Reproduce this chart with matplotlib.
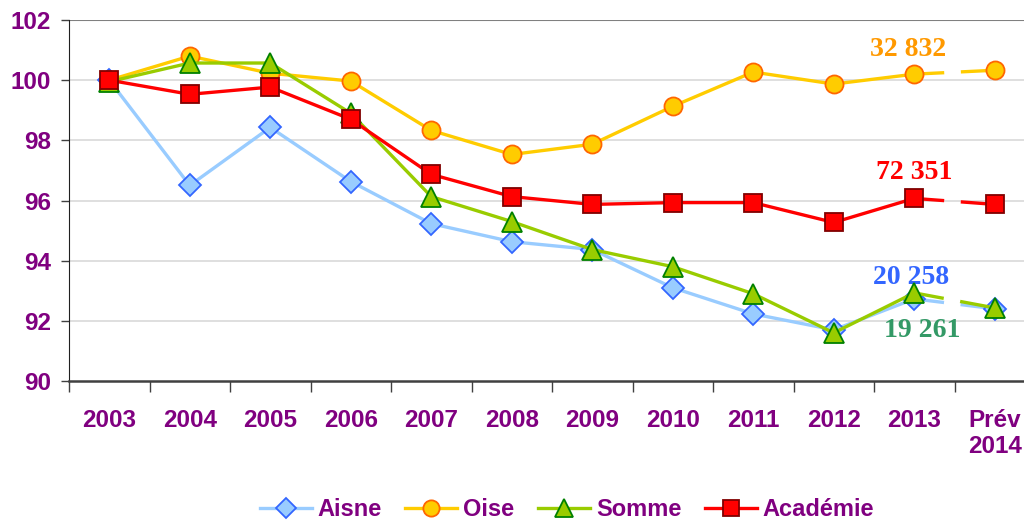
import numpy as np
import matplotlib.pyplot as plt
from matplotlib.ticker import FixedLocator

annees = ["2003", "2004", "2005", "2006", "2007", "2008", "2009", "2010",
          "2011", "2012", "2013", "Prév\n2014"]
aisne = [100, 96.5, 98.43, 96.63, 95.23, 94.63, 94.37, 93.1, 92.23, 91.7, 92.73, 92.4]
oise = [100, 100.8, 100.23, 99.97, 98.33, 97.53, 97.87, 99.13, 100.27, 99.87, 100.2, 100.33]
somme = [99.95, 100.57, 100.57, 98.9, 96.13, 95.3, 94.37, 93.8, 92.9, 91.6, 92.93, 92.43]
academie = [100, 99.53, 99.77, 98.7, 96.87, 96.13, 95.87, 95.93, 95.93, 95.27, 96.07, 95.87]

effectifs = ["20 258", "32 832", "19 261", "72 351"]

violet = "#800080"
plt.rcParams['font.family'] = ['Liberation Sans', 'DejaVu Sans']

fig = plt.figure(figsize=(10.24, 5.21), dpi=100)
ax = fig.add_axes([69/1024, 1 - 381/521, 1 - 69/1024, (381 - 20)/521])

x = np.arange(len(annees))
series = [
    ("Aisne", aisne, "#99CCFF", "D", "#99CCFF", "#3366FF", 11),
    ("Oise", oise, "#FFCC00", "o", "#FFCC00", "#FF6600", 13),
    ("Somme", somme, "#99CC00", "^", "#99CC00", "#008000", 14),
    ("Académie", academie, "#FF0000", "s", "#FF0000", "#800000", 13),
]

handles = []
for i, (nom, vals, lc, mk, fc, ec, ms) in enumerate(series):
    z = 3 + i
    ax.plot(x[:-1], vals[:-1], color=lc, lw=2.4, zorder=z, solid_capstyle='butt')
    ax.plot(x[-2:], vals[-2:], color=lc, lw=2.4, zorder=z,
            dashes=(9, 5), dash_capstyle='butt')
    ax.plot(x, vals, marker=mk, ms=ms, mfc=fc, mec=ec,
            mew=1.3, linestyle='none', zorder=z + 0.5)
    lh, = ax.plot([], [], color=lc, lw=2.4, marker=mk, ms=ms * 0.9, mfc=fc, mec=ec, mew=1.3)
    handles.append(lh)

# annotations des effectifs
font_ann = dict(family=['Liberation Serif', 'DejaVu Serif'], fontweight='bold', fontsize=20)
ax.text(x[-2] - 0.08, 101.02, effectifs[1], color="#FF9900", ha='center', va='center', **font_ann)
ax.text(x[-2], 96.93, effectifs[3], color="#FF0000", ha='center', va='center', **font_ann)
ax.text(x[-2] - 0.04, 93.43, effectifs[0], color="#3366FF", ha='center', va='center', **font_ann)
ax.text(x[-2] + 0.1, 91.67, effectifs[2], color="#339966", ha='center', va='center', **font_ann)

ax.set_xlim(-0.5, -0.5 + (1024 - 69) / 80.5)
ax.set_ylim(90, 102)
ax.set_yticks(np.arange(90, 103, 2))
ax.set_xticks(x)
ax.set_xticklabels(annees)
ax.xaxis.set_minor_locator(FixedLocator(np.arange(-0.5, 12, 1)))
ax.tick_params(axis='x', which='major', length=0, pad=20, labelsize=17.5, labelcolor=violet)
ax.tick_params(axis='x', which='minor', length=8, direction='out', color='#404040', width=1)
ax.tick_params(axis='y', length=6, direction='out', color='#404040', width=1,
               labelsize=17.5, labelcolor=violet, pad=7)
for lab in ax.get_xticklabels() + ax.get_yticklabels():
    lab.set_fontweight('bold')

for yv in np.arange(92, 101, 2):
    ax.axhline(yv, color='#D9D9D9', lw=1.2, zorder=1)
ax.axhline(102, color='#808080', lw=1.5, zorder=1)

ax.spines['top'].set_visible(False)
ax.spines['right'].set_visible(False)
ax.spines['left'].set_color('#202020')
ax.spines['bottom'].set_color('#404040')
ax.spines['bottom'].set_linewidth(1.8)

leg = fig.legend(handles, [s[0] for s in series], loc='center', bbox_to_anchor=(567/1024, 1 - 510/521),
                 ncol=4, frameon=False, fontsize=17, handlelength=2.2, columnspacing=1.0,
                 handletextpad=0.25)
for t in leg.get_texts():
    t.set_color(violet)
    t.set_fontweight('bold')

fig.savefig("out.png", dpi=100)
